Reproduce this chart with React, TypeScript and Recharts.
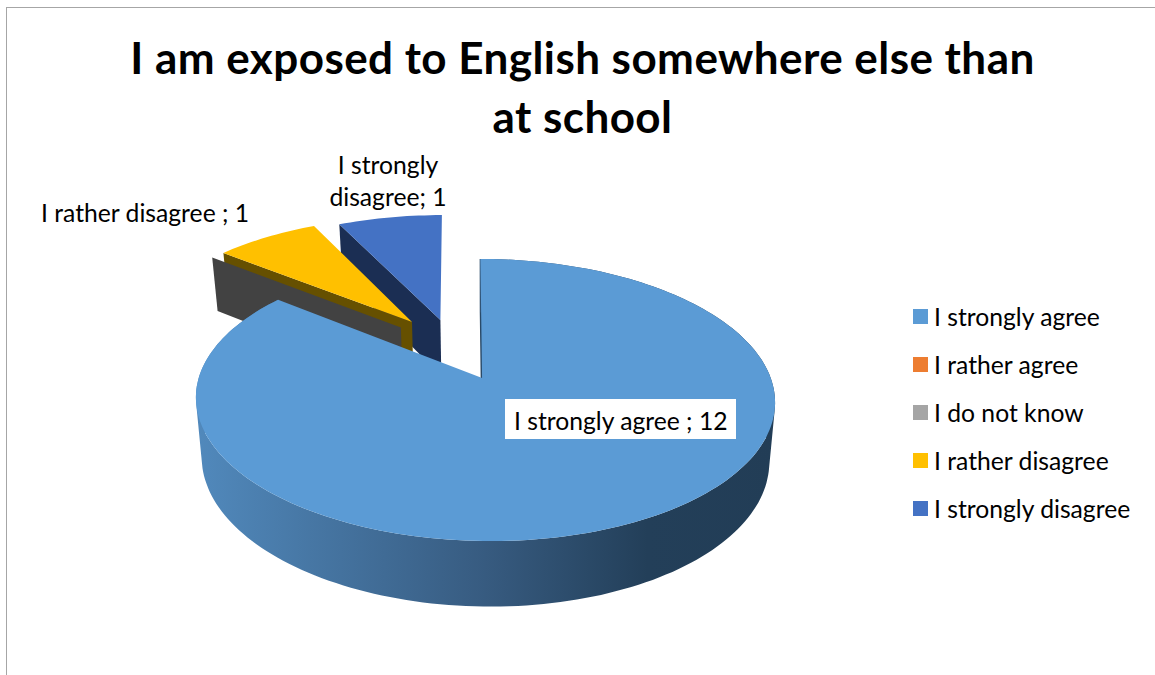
import React from "react";
import { PieChart, Pie, Legend } from "recharts";

const categories = ["I strongly agree", "I rather agree", "I do not know", "I rather disagree", "I strongly disagree"];
const values = [12, 0, 0, 1, 1];
const sliceColors = ["#5b9bd5", "#ed7d31", "#a5a5a5", "#ffc000", "#4472c4"];
const wallColors = ["#2a4a68", "#843c0c", "#424242", "#665000", "#1b2e53"];
const titleLines = ["I am exposed to English somewhere else than", "at school"];

// Exploded slices, as an offset of the slice apex in pie radii (x right, y towards the back)
const sliceOffsets: Record<string, [number, number]> = {
  "I strongly agree": [0, 0],
  "I do not know": [-0.304, 0.39],
  "I rather disagree": [-0.264, 0.435],
  "I strongly disagree": [-0.158, 0.452],
};
// The main slice's apex sits a touch left of the ellipse centre
const MAIN_APEX_NUDGE = -0.009;

// Where each data label sits, one array entry per text line
const labelLayout: Record<string, { x: number; y: number; lines: string[]; anchor: "start" | "middle"; box?: boolean }> = {
  "I strongly agree": { x: 514, y: 420, lines: ["I strongly agree ; "], anchor: "start", box: true },
  "I rather disagree": { x: 41, y: 212, lines: ["I rather disagree ; "], anchor: "start" },
  "I strongly disagree": { x: 388, y: 164, lines: ["I strongly", "disagree; "], anchor: "middle" },
};

// Recharts walks the slices in data order and angle, so feeding them reversed and
// counter-clockwise from twelve o'clock paints the back slices first.
const sliceData = categories
  .map((name, i) => ({ name, value: values[i], fill: sliceColors[i], wall: wallColors[i] }))
  .reverse();

const FONT = "Lato, Carlito, sans-serif";
const TILT = 137.6;
const PERSPECTIVE = 0.156;
const SHEAR = 5;

function projectTop(cx: number, cy: number, r: number, u: number, v: number): [number, number] {
  const w = 1 + PERSPECTIVE * v;
  return [cx + (r * u - SHEAR * v) / w, cy - (TILT * v) / w];
}

// Rim of the pie's underside for a point on the top face
function dropToBase(cx: number, p: [number, number]): [number, number] {
  return [cx + (p[0] - cx) * 0.98, p[1] + 53.5 + (p[1] - 259) * 0.0426];
}

const toPath = (pts: [number, number][]) =>
  "M" + pts.map((p) => `${p[0].toFixed(1)},${p[1].toFixed(1)}`).join("L") + "Z";

// Same winding for every quad, otherwise overlapping ones cancel out under nonzero fill
function wound(pts: [number, number][]) {
  let area = 0;
  pts.forEach((p, i) => {
    const q = pts[(i + 1) % pts.length];
    area += p[0] * q[1] - q[0] * p[1];
  });
  return area < 0 ? [...pts].reverse() : pts;
}

function Slice3D(props: any) {
  const { cx, cy, outerRadius, startAngle, endAngle, name, fill, payload } = props;
  const offset = sliceOffsets[name];
  // a zero slice that stays in place is hidden behind its neighbour
  if (!offset) return null;
  const isMain = name === categories[0];
  const project = (u: number, v: number) => projectTop(cx, cy, outerRadius, u, v);
  const apex = project(offset[0] + (isMain ? MAIN_APEX_NUDGE : 0), offset[1]);
  const arc: [number, number][] = [];
  const steps = Math.max(1, Math.ceil(Math.abs(endAngle - startAngle) / 1.5));
  for (let i = 0; i <= steps; i++) {
    const a = ((startAngle + ((endAngle - startAngle) * i) / steps) * Math.PI) / 180;
    arc.push(project(offset[0] + Math.cos(a), offset[1] + Math.sin(a)));
  }
  const base = (p: [number, number]) => dropToBase(cx, p);
  const wallFill = payload?.wall ?? props.wall;
  // the outer wall is swept one quad per arc step so the sides stay tangent;
  // only the main slice shows it, the exploded ones face away at the back
  const rim = arc
    .slice(1)
    .map((p, i) => toPath(wound([arc[i], p, base(p), base(arc[i])])))
    .join("");
  const last = arc[arc.length - 1];
  return (
    <g>
      {isMain && (
        <defs>
          <linearGradient id="mainWall" gradientUnits="userSpaceOnUse" x1={196} y1={0} x2={775} y2={0}>
            <stop offset="0%" stopColor="#5189bc" />
            <stop offset="50%" stopColor="#375b80" />
            <stop offset="78%" stopColor="#233f59" />
            <stop offset="100%" stopColor="#223d56" />
          </linearGradient>
        </defs>
      )}
      <path
        d={toPath([apex, last, base(last), base(apex)])}
        fill={wallFill}
        stroke={isMain ? wallFill : "none"}
        strokeWidth={isMain ? 1.5 : 0}
      />
      {isMain && <path d={rim} fill="url(#mainWall)" fillRule="nonzero" />}
      {steps > 1 && <path d={toPath([apex, ...arc])} fill={fill} />}
    </g>
  );
}

function SliceLabel(props: any) {
  const { name, value } = props;
  const spec = labelLayout[name];
  if (!spec || !value) return null;
  const lines = spec.lines.map((l, i) => (i === spec.lines.length - 1 ? `${l}${value}` : l));
  return (
    <g>
      {spec.box && <rect x={505} y={399} width={231} height={40} fill="#ffffff" />}
      {lines.map((line, i) => (
        <text
          key={line}
          x={spec.x}
          y={spec.y + i * 32}
          textAnchor={spec.anchor}
          dominantBaseline="central"
          fontFamily={FONT}
          fontSize={24.7}
          fill="#000000"
        >
          {line}
        </text>
      ))}
    </g>
  );
}

function LegendList({ payload }: any) {
  const items = [...(payload ?? [])].sort((a: any, b: any) => categories.indexOf(a.value) - categories.indexOf(b.value));
  return (
    <div>
      {items.map((item: any) => (
        <div key={item.value} style={{ display: "flex", alignItems: "center", height: 48.2 }}>
          <span style={{ width: 15, height: 15, background: item.color, marginRight: 6 }} />
          <span style={{ fontFamily: FONT, fontSize: 24.7, color: "#000", whiteSpace: "nowrap" }}>{item.value}</span>
        </div>
      ))}
    </div>
  );
}

export default function App() {
  return (
    <div style={{ position: "absolute", left: 0, top: 0, width: 1155, height: 675, background: "#fff", overflow: "hidden" }}>
      <div style={{ position: "absolute", left: 6, top: 7, width: 1149, height: 668, borderLeft: "1px solid #a6a6a6", borderTop: "1px solid #a6a6a6" }} />
      <PieChart width={1155} height={675} margin={{ top: 0, right: 0, bottom: 0, left: 0 }} style={{ position: "absolute", left: 0, top: 0 }}>
        {titleLines.map((line, i) => (
          <text
            key={line}
            x={582.5}
            y={57 + i * 59}
            textAnchor="middle"
            dominantBaseline="central"
            fontFamily={FONT}
            fontWeight={700}
            fontSize={44}
            letterSpacing={0.45}
            fill="#000000"
          >
            {line}
          </text>
        ))}
        <Pie
          data={sliceData}
          dataKey="value"
          nameKey="name"
          cx={484.7}
          cy={378}
          outerRadius={286}
          startAngle={90}
          endAngle={450}
          stroke="none"
          shape={Slice3D}
          label={SliceLabel}
          labelLine={false}
          isAnimationActive={false}
        />
        <Legend
          layout="vertical"
          align="right"
          verticalAlign="top"
          content={LegendList}
          wrapperStyle={{ position: "absolute", left: 913, top: 292, width: 240 }}
        />
      </PieChart>
    </div>
  );
}
